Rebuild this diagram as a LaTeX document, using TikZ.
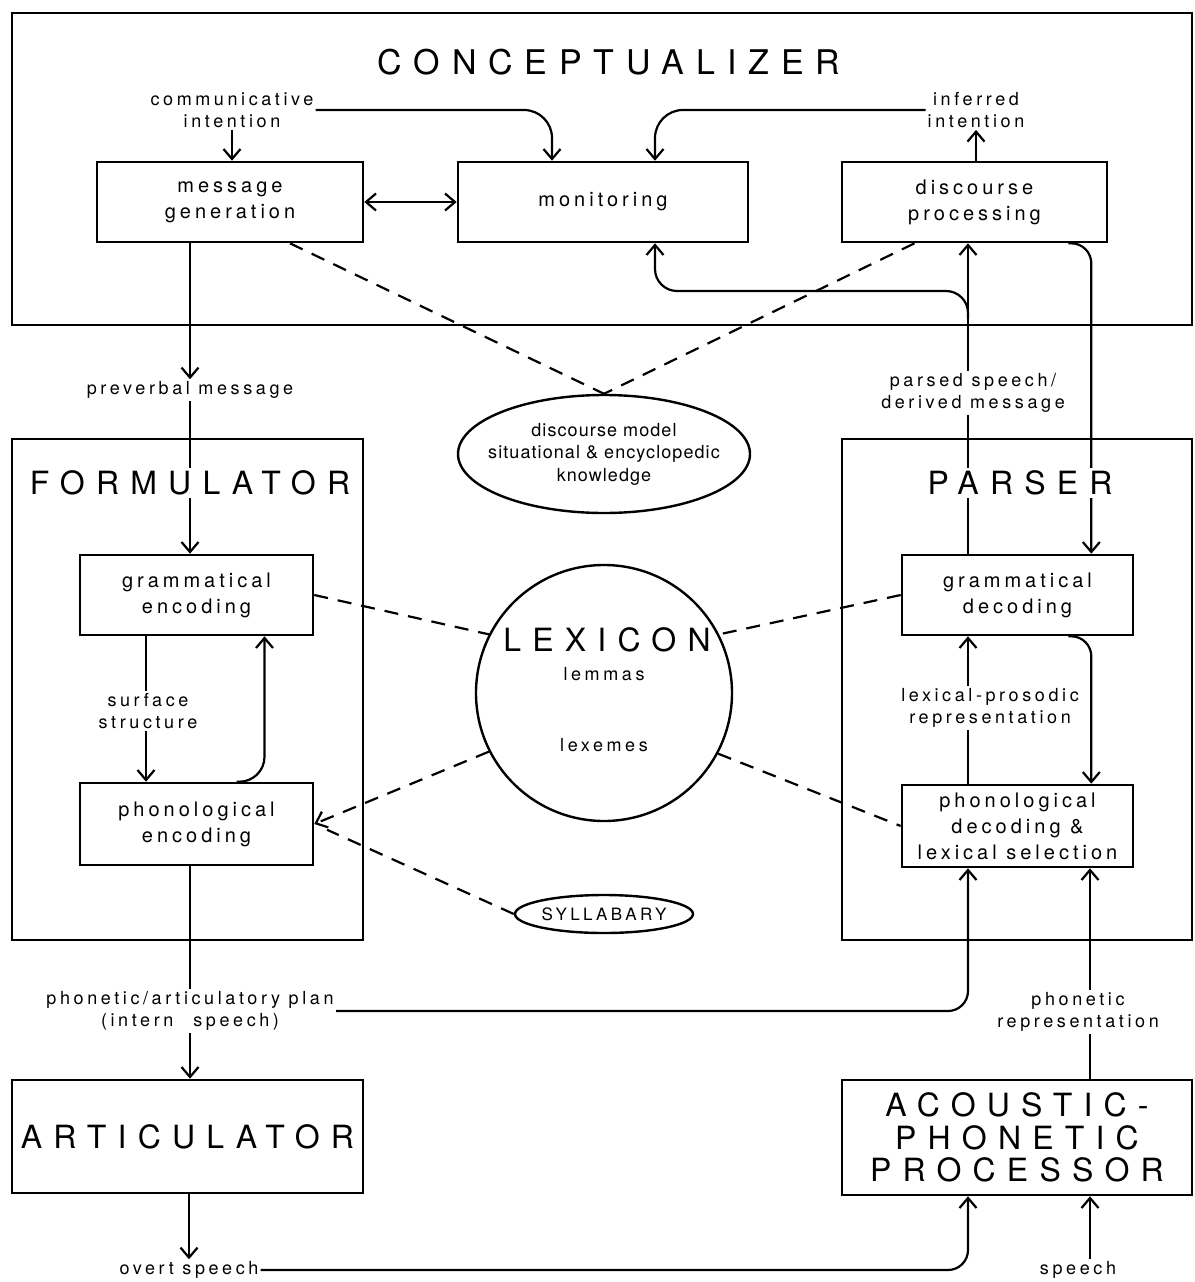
\documentclass[tikz,border=0pt]{standalone}
\usepackage{fontspec}
\setmainfont{TeX Gyre Heros}
\newfontfamily\titlefont[LetterSpace=35]{TeX Gyre Heros}
\newfontfamily\labfont[LetterSpace=20]{TeX Gyre Heros}
\newfontfamily\dmfont[LetterSpace=6]{TeX Gyre Heros}
\usetikzlibrary{arrows.meta,calc,shapes.geometric}
\pgfdeclarelayer{bg}
\pgfsetlayers{bg,main}
\begin{document}
\begin{tikzpicture}[x=1pt,y=-1pt,
  frame/.style={draw, line width=2.6pt, inner sep=0pt},
  box/.style={draw, line width=2.6pt, fill=white, inner sep=0pt, align=center, font=\labfont\fontsize{20}{26}\selectfont},
  tbox/.style={draw, line width=2.6pt, fill=white, inner sep=0pt, align=center, font=\titlefont\fontsize{32}{32.5}\selectfont},
  lab/.style={fill=white, inner sep=2pt, align=center, font=\labfont\fontsize{18}{22}\selectfont},
  ttl/.style={fill=white, inner sep=3pt, align=center, font=\titlefont\fontsize{32}{32.5}\selectfont},
  conn/.style={line width=2.2pt},
  arr/.style={conn, -{Straight Barb[length=10pt,width=17pt]}},
  darr/.style={conn, {Straight Barb[length=10pt,width=17pt]}-{Straight Barb[length=10pt,width=17pt]}},
  dashline/.style={conn, dash pattern=on 14pt off 10pt},
  ell/.style={draw, ellipse, line width=2.4pt, inner sep=0pt}
]
\useasboundingbox (0,0) rectangle (1194,1282);

% frames
\node[frame, minimum width=1180pt, minimum height=312pt] (concF) at (602,169) {};
\node[frame, minimum width=351pt, minimum height=501pt] (formF) at (187.5,689.5) {};
\node[frame, minimum width=350pt, minimum height=501pt] (parsF) at (1017,689.5) {};

% titles
\node[ttl, fill=none, font=\titlefont\fontsize{34}{34}\selectfont] (concT) at (609,62) {CONCEPTUALIZER};
\node[ttl] (formT) at (190,483) {FORMULATOR};
\node[ttl] (parsT) at (1020,483) {PARSER};

% boxes
\node[box, minimum width=266pt, minimum height=80pt] (mg) at (230,202) {message\\generation};
\node[box, minimum width=290pt, minimum height=80pt] (mon) at (603,202) {monitoring};
\node[box, minimum width=265pt, minimum height=80pt] (dp) at (974.5,202) {discourse\\processing};
\node[box, minimum width=233pt, minimum height=80pt] (ge) at (196.5,595) {grammatical\\encoding};
\node[box, minimum width=233pt, minimum height=82pt] (pe) at (196.5,824) {phonological\\encoding};
\node[box, minimum width=231pt, minimum height=80pt] (gd) at (1017.5,595) {grammatical\\decoding};
\node[box, minimum width=231pt, minimum height=82pt] (pd) at (1017.5,826) {phonological\\decoding \&\\lexical selection};
\node[tbox, minimum width=351pt, minimum height=113pt] (artic) at (187.5,1136.5) {ARTICULATOR};
\node[tbox, minimum width=350pt, minimum height=115pt] (ap) at (1017,1137.5) {ACOUSTIC-\\PHONETIC\\PROCESSOR};

% ellipses and lexicon
\node[ell, fill=white, minimum width=292pt, minimum height=118pt] (dm) at (604,454) {};
\node[align=center, inner sep=0pt, font=\dmfont\fontsize{18}{22.5}\selectfont] (dmt) at (dm) {discourse model\\situational \& encyclopedic\\knowledge};
\node[draw, circle, line width=2.4pt, fill=white, minimum size=256pt, inner sep=0pt] (lex) at (604,693) {};
\node[ttl, fill=none] (lexT) at (607,640) {LEXICON};
\node[lab, fill=none] (lem) at (604,674) {lemmas};
\node[lab, fill=none] (lxm) at (604,745) {lexemes};
\node[ell, fill=white, minimum width=178pt, minimum height=38pt] (syl) at (604,914) {};
\node[inner sep=0pt, font=\labfont\fontsize{17}{20}\selectfont] (sylt) at (syl) {SYLLABARY};

% labels
\node[lab] (ci) at (232,110) {communicative\\intention};
\node[lab] (ii) at (976,110) {inferred\\intention};
\node[lab] (pvm) at (190,390) {preverbal message};
\node[lab] (psd) at (973,393) {parsed speech/\\derived message};
\node[lab] (ss) at (148,711) {surface\\structure};
\node[lab] (lp) at (990,708) {lexical-prosodic\\representation};
\node[lab] (pap) at (190,1011) {phonetic/articulatory plan\\(intern\hspace{20pt}speech)};
\node[lab] (pr) at (1078,1012) {phonetic\\representation};
\node[lab] (os) at (189,1270) {overt speech};
\node[lab] (sp) at (1078,1270) {speech};

\coordinate (br) at (968,318);
\coordinate (mh) at (655,291);

\begin{pgfonlayer}{bg}
% conceptualizer
\draw[arr] (ci.south) -- (ci.south |- mg.north);
\draw[arr, rounded corners=28pt] (ci.east) -| ([xshift=-51pt]mon.north);
\draw[arr] (dp.north -| ii.south) -- (ii.south);
\draw[arr, rounded corners=28pt] (ii.west) -| ([xshift=52pt]mon.north);
\draw[darr] (mg.east) -- (mon.west);
\draw[dashline] ([xshift=60pt]mg.south) -- (dm.north);
\draw[dashline] ([xshift=-60pt]dp.south) -- (dm.north);
% parser up
\draw[arr] ([xshift=-49.5pt]gd.north) -- ([xshift=-6.5pt]dp.south);
\draw[arr, rounded corners=22pt] (br) |- (mh) -- (mon.south -| mh);
\draw[arr, rounded corners=20pt] ([xshift=-40pt]dp.south east) -| ([xshift=-43pt]gd.north east);
% formulator
\draw[arr] ([xshift=-40pt]mg.south) -- ([xshift=-40pt]mg.south |- pvm.north);
\draw[arr] (pvm.south) -- (pvm.south |- ge.north);
\draw[arr] ([xshift=-50.5pt]ge.south) -- ([xshift=-50.5pt]pe.north);
\draw[arr, rounded corners=25pt] ([xshift=40pt]pe.north) -| ([xshift=68pt]ge.south);
% lexicon links
\draw[dashline] (ge.east) -- (lex.153);
\draw[dashline] (gd.west) -- (lex.27);
\draw[dashline, -{Straight Barb[length=10pt,width=17pt]}] (lex.207) -- (pe.east);
\draw[dashline, shorten >=14pt] (syl.west) -- (pe.east);
\draw[dashline] (lex.-28) -- (pd.west);
% parser internal
\draw[arr] ([xshift=-49.5pt]pd.north) -- ([xshift=-49.5pt]gd.south);
\draw[arr, rounded corners=20pt] ([xshift=-66pt]gd.south east) -| ([xshift=-43pt]pd.north east);
% bottom
\draw[conn] (pe.south -| pap.north) -- (pap.north);
\draw[arr] (pap.south) -- (pap.south |- artic.north);
\draw[arr, rounded corners=20pt] (pap.east) -| ([xshift=-49.5pt]pd.south);
\draw[arr] (artic.south -| os.north) -- (os.north);
\draw[arr, rounded corners=20pt] (os.east) -| ([xshift=-49pt]ap.south);
\draw[arr] ([xshift=73pt]ap.south |- sp.north) -- ([xshift=73pt]ap.south);
\draw[arr] ([xshift=73pt]ap.north) -- ([xshift=72.5pt]pd.south);
\end{pgfonlayer}
\end{tikzpicture}
\end{document}
